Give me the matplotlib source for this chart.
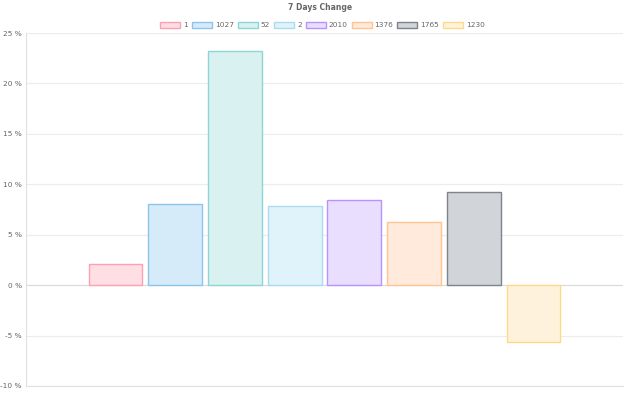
import matplotlib
matplotlib.use("Agg")
import matplotlib.pyplot as plt
from matplotlib.patches import Patch

labels = ["1", "1027", "52", "2", "2010", "1376", "1765", "1230"]
changes = [2.1, 8.0, 23.2, 7.8, 8.4, 6.25, 9.2, -5.6]
fills = ["#ffdee4", "#d6ebf9", "#d9f1f1", "#e1f3fa", "#eadeff", "#ffeadb", "#d1d4d8", "#fff2dc"]
edges = ["#ff9fb3", "#8cc4ee", "#8ed5d5", "#a9dcef", "#b893ff", "#ffc48f", "#7d848b", "#ffd98a"]
y_ticks = [-10, -5, 0, 5, 10, 15, 20, 25]

fig = plt.figure(figsize=(6.4, 4.0), dpi=100)
ax = fig.add_axes([26 / 640, 1 - 386 / 400, 597 / 640, 353 / 400])

positions = list(range(len(labels)))
ax.bar(positions, changes, width=0.9, color=fills, edgecolor=edges, linewidth=1.0, zorder=3)

ax.set_xlim(-1.5, len(labels) + 0.5)
ax.set_ylim(-10, 25)
ax.set_yticks(y_ticks)
ax.set_yticklabels([f"{t} %" for t in y_ticks], fontsize=5.3, color="#666666")
ax.set_xticks([])
ax.tick_params(axis="y", length=0, pad=3)

for t in y_ticks:
    ax.axhline(t, color="#d9d9d9" if t == 0 else "#ececec", linewidth=0.8, zorder=1)

for side in ["top", "right"]:
    ax.spines[side].set_visible(False)
ax.spines["left"].set_color("#e0e0e0")
ax.spines["bottom"].set_color("#e0e0e0")
ax.spines["left"].set_linewidth(0.8)
ax.spines["bottom"].set_linewidth(0.8)

fig.text(0.5, 1 - 8 / 400, "7 Days Change", ha="center", va="center",
         fontsize=5.5, fontweight="bold", color="#666666")

handles = [Patch(facecolor=f, edgecolor=e, linewidth=1.0) for f, e in zip(fills, edges)]
fig.legend(handles, labels, loc="center", bbox_to_anchor=(0.504, 1 - 25 / 400), ncol=len(labels),
           frameon=False, fontsize=5.3, labelcolor="#666666", handlelength=2.7, handleheight=0.9,
           handletextpad=0.4, columnspacing=0.55, borderaxespad=0)

fig.savefig("out.png", dpi=100, facecolor="white")
plt.close(fig)
